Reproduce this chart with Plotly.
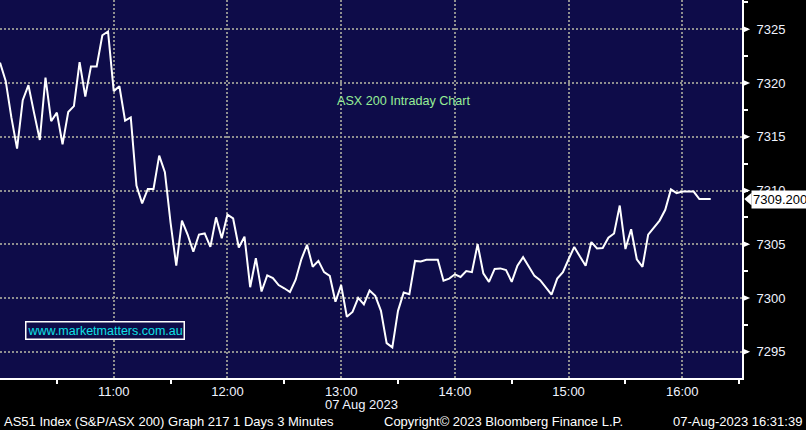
import pandas as pd
import plotly.graph_objects as go

# ---- data ----
start_time = "2023-08-07 10:00"
bar_minutes = 3
prices = [
    7321.9, 7320.2, 7316.8, 7313.9, 7318.4, 7319.8, 7317.2, 7314.7, 7320.5, 7316.45,
    7317.25, 7314.3, 7317.3, 7317.85, 7321.95, 7318.75, 7321.55, 7321.55, 7324.45, 7324.8,
    7319.25, 7319.7, 7316.5, 7316.8, 7310.45, 7308.8, 7310.15, 7310.15, 7313.25, 7311.7,
    7307.0, 7303.0, 7307.2, 7305.9, 7304.3, 7305.9, 7306.0, 7304.75, 7307.5, 7305.55,
    7307.75, 7307.4, 7304.7, 7305.7, 7301.0, 7303.7, 7300.6, 7302.1, 7301.85, 7301.2,
    7300.9, 7300.55, 7301.7, 7303.6, 7304.95, 7302.9, 7303.45, 7302.4, 7302.05, 7299.65,
    7301.2, 7298.25, 7298.7, 7300.0, 7299.4, 7300.7, 7300.2, 7298.8, 7295.8, 7295.4,
    7298.8, 7300.5, 7300.35, 7303.45, 7303.4, 7303.55, 7303.55, 7303.55, 7301.6, 7301.8,
    7302.2, 7301.95, 7302.5, 7302.4, 7305.0, 7302.3, 7301.5, 7302.7, 7302.75, 7302.6,
    7301.5, 7303.0, 7303.8, 7302.9, 7302.05, 7301.65, 7300.95, 7300.3, 7301.8, 7302.4,
    7303.6, 7304.75, 7303.85, 7303.0, 7305.2, 7304.6, 7304.65, 7305.6, 7306.0, 7308.6,
    7304.55, 7306.4, 7303.6, 7302.9, 7305.9, 7306.5, 7307.2, 7308.2, 7310.1, 7309.75,
    7309.9, 7309.9, 7309.9, 7309.2, 7309.2, 7309.2,
]
last_price = 7309.2
y_ticks = [7295, 7300, 7305, 7310, 7315, 7320, 7325]
x_range = ["2023-08-07 10:00:00", "2023-08-07 16:31:30"]
y_range = [7292.55, 7327.73]
title_text = "ASX 200 Intraday Chart"
site_text = "www.marketmatters.com.au"
date_text = "07 Aug 2023"
footer_left = "AS51 Index (S&P/ASX 200) Graph 217 1 Days 3 Minutes"
footer_mid = "Copyright\u00a9 2023 Bloomberg Finance L.P."
footer_right = "07-Aug-2023 16:31:39"

times = pd.date_range(start_time, periods=len(prices), freq=f"{bar_minutes}min")

FONT = "Liberation Sans"
NAVY = "#0e0c49"
GRID = "#8f8f8f"

fig = go.Figure()
fig.add_trace(go.Scatter(x=times, y=prices, mode="lines",
                         line=dict(color="white", width=2), hoverinfo="skip"))

fig.update_layout(
    width=806, height=430,
    margin=dict(l=0, r=64, t=0, b=52, autoexpand=False),
    paper_bgcolor="black", plot_bgcolor=NAVY,
    showlegend=False,
    font=dict(family=FONT, size=13, color="white"),
)

fig.update_xaxes(
    range=x_range, type="date",
    tickformat="%H:%M", dtick=3600000, tick0="2023-08-07 10:00",
    showgrid=True, gridcolor=GRID, gridwidth=1.5, griddash="2px,2px",
    showline=True, linecolor="white", linewidth=2,
    ticks="", ticklabelstandoff=0,
    minor=dict(dtick=1800000, tick0="2023-08-07 10:00", ticks="outside",
               ticklen=4, tickcolor="white", tickwidth=1.5, showgrid=False),
    tickfont=dict(family=FONT, size=13, color="#f0f4ff"),
    zeroline=False, fixedrange=True,
)
fig.update_yaxes(
    range=y_range, side="right",
    tickvals=y_ticks, ticktext=[str(v) for v in y_ticks],
    showgrid=True, gridcolor=GRID, gridwidth=1.5, griddash="2px,2px",
    showline=True, linecolor="white", linewidth=2,
    ticks="", ticklabelstandoff=10,
    minor=dict(dtick=2.5, tick0=7295, ticks="outside", ticklen=4,
               tickcolor="white", tickwidth=1.5, showgrid=False),
    tickfont=dict(family=FONT, size=13, color="#f0f4ff"),
    zeroline=False, fixedrange=True,
)

# triangle markers at major ticks on the right axis
for v in y_ticks:
    fig.add_shape(type="path", xref="paper", yref="y",
                  path=f"M 1.0,{v + 0.33} L 1.011,{v} L 1.0,{v - 0.33} Z",
                  fillcolor="white", line=dict(color="white", width=0), layer="above")

# last price pointer box
fig.add_shape(type="path", xref="paper", yref="y",
              path=f"M 1.003,{last_price} L 1.013,{last_price + 0.6} L 1.013,{last_price - 0.6} Z",
              fillcolor="white", line=dict(color="white", width=0), layer="above")
fig.add_annotation(x=1, xref="paper", y=last_price, yref="y", xanchor="left", xshift=9,
                   yanchor="middle",
                   text=f"{last_price:.3f}", showarrow=False,
                   font=dict(family=FONT, size=13, color="black"),
                   bgcolor="white", borderpad=1)

# chart title
fig.add_annotation(x=0.545, xref="paper", y=1 - 101 / 378, yref="paper",
                   xanchor="center", yanchor="middle",
                   text=title_text, showarrow=False,
                   font=dict(family=FONT, size=12.6, color="#96ee96"))

# website box
fig.add_annotation(x=25 / 742, xref="paper", y=1 - 330 / 378, yref="paper",
                   xanchor="left", yanchor="middle", text=site_text, showarrow=False,
                   font=dict(family=FONT, size=12.5, color="#10e0e6"),
                   bordercolor="white", borderwidth=1.5, borderpad=1, bgcolor=NAVY)

# date under axis
fig.add_annotation(x=361 / 742, xref="paper", y=0, yref="paper", yanchor="middle",
                   yshift=-26, text=date_text, showarrow=False,
                   font=dict(family=FONT, size=13, color="#f0f4ff"))

# footer
fig.add_annotation(x=2 / 742, xref="paper", y=0, yref="paper", xanchor="left",
                   yanchor="middle", yshift=-43, text=footer_left, showarrow=False,
                   font=dict(family=FONT, size=13, color="white"))
fig.add_annotation(x=382 / 742, xref="paper", y=0, yref="paper", xanchor="left",
                   yanchor="middle", yshift=-43, text=footer_mid, showarrow=False,
                   font=dict(family=FONT, size=13, color="white"))
fig.add_annotation(x=804 / 742, xref="paper", y=0, yref="paper", xanchor="right",
                   yanchor="middle", yshift=-43, text=footer_right, showarrow=False,
                   font=dict(family=FONT, size=13, color="white"))

fig.write_html(
    "out.html",
    config={"displayModeBar": False},
    post_script="document.body.style.margin='0';document.body.style.padding='0';"
                "document.body.style.background='black';",
)
